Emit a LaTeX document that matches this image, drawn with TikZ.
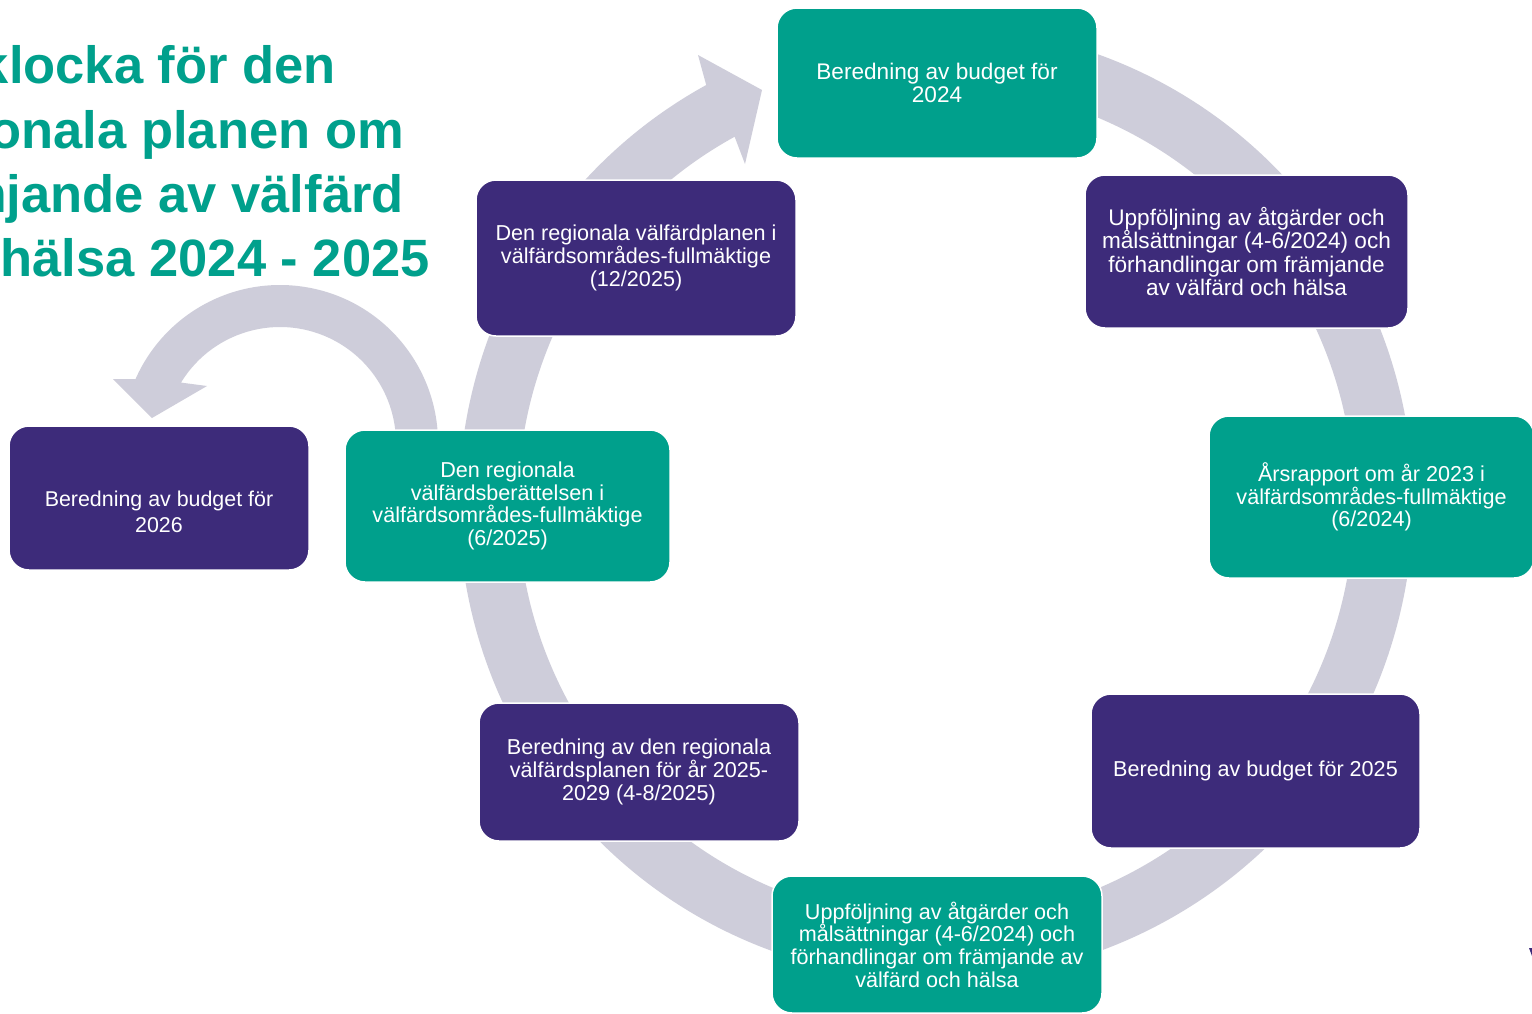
\documentclass[tikz,border=0pt]{standalone}
\usepackage{fontspec}
\setmainfont{Liberation Sans}
\usetikzlibrary{calc}
\definecolor{teal1}{RGB}{0,160,140}
\definecolor{purp}{RGB}{61,43,122}
\definecolor{ringgray}{RGB}{206,205,218}
\begin{document}
\begin{tikzpicture}[x=1pt,y=1pt,
  card/.style={rounded corners=20pt, draw=white, line width=1.5pt, text=white, align=center, inner sep=0pt, font=\fontsize{21.6}{22.7}\selectfont},
  bigtext/.style={font=\fontsize{22.6}{23.6}\selectfont},
  tcard/.style={card, fill=teal1},
  pcard/.style={card, fill=purp},
  cardtext/.style={text=white, align=center, inner sep=0pt, font=\fontsize{21.4}{26}\selectfont},
  titleline/.style={anchor=base east, inner sep=0pt, text=teal1, font=\fontsize{52.5}{62}\selectfont\bfseries}]
\useasboundingbox (0,0) rectangle (1532,-1013);
\clip (0,0) rectangle (1532,-1013);
\fill[white] (0,0) rectangle (1532,-1013);

% title
\node[titleline] (t1) at (336,-83) {Årsklocka för den};
\node[titleline] (t2) at (404,-148) {regionala planen om};
\node[titleline] (t3) at (404,-212) {främjande av välfärd};
\node[titleline] (t4) at (430,-276) {och hälsa 2024 - 2025};

% big circular arrow
\coordinate (C) at (936,-503);
\fill[ringgray] ($(C)+(75:477)$) arc[start angle=75,end angle=-241.2,radius=477]
  -- (698,-55) -- (762,-90) -- (745,-164)
  -- ($(C)+(-241.2:418)$) arc[start angle=-241.2,end angle=75,radius=418] -- cycle;

% small loop arrow
\coordinate (C2) at (280,-443);
\fill[ringgray] ($(C2)+(-8:158)$) arc[start angle=-8,end angle=156.2,radius=158]
  -- (113,-379) -- (152,-418) -- (207,-386)
  -- ($(C2)+(148.6:116)$) arc[start angle=148.6,end angle=-8,radius=116] -- cycle;

% boxes
\node[tcard, bigtext, minimum width=320pt, minimum height=150pt] (b1) at (937,-83) {Beredning av budget för\\2024};
\node[pcard, bigtext, minimum width=323pt, minimum height=153pt] (b2) at (1246.5,-251.5) {Uppföljning av åtgärder och\\målsättningar (4-6/2024) och\\förhandlingar om främjande\\av välfärd och hälsa};
\node[tcard, minimum width=325pt, minimum height=162pt] (b3) at (1371.5,-497) {Årsrapport om år 2023 i\\välfärdsområdes-fullmäktige\\(6/2024)};
\node[pcard, minimum width=329pt, minimum height=154pt] (b4) at (1255.5,-771) {\raisebox{0pt}{Beredning av budget för 2025}};
\node[tcard, minimum width=330pt, minimum height=137pt] (b5) at (937,-944.5) {Uppföljning av åtgärder och\\målsättningar (4-6/2024) och\\förhandlingar om främjande av\\välfärd och hälsa};
\node[pcard, minimum width=320pt, minimum height=138pt] (b6) at (639,-772) {Beredning av den regionala\\välfärdsplanen för år 2025-\\2029 (4-8/2025)};
\node[tcard, minimum width=325pt, minimum height=152pt] (b7) at (507.5,-506) {Den regionala\\välfärdsberättelsen i\\välfärdsområdes-fullmäktige\\(6/2025)};
\node[pcard, minimum width=320pt, minimum height=156pt] (b8) at (636,-258) {Den regionala välfärdplanen i\\välfärdsområdes-fullmäktige\\(12/2025)};
\node[pcard, minimum width=300pt, minimum height=144pt] (b9) at (159,-498) {};
\node[cardtext] (b9t) at (159,-512) {Beredning av budget för\\2026};

% small cut-off mark at right edge
\fill[purp] (1529,-948) -- (1532,-948) -- (1532,-956) -- cycle;
\end{tikzpicture}
\end{document}
